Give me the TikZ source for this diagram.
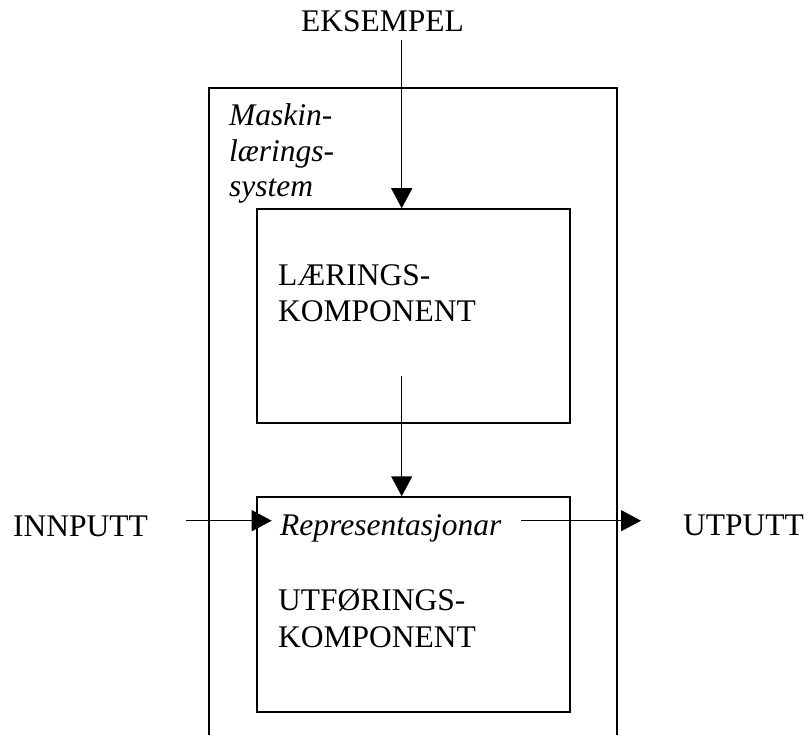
\documentclass[tikz,border=0pt]{standalone}
\usepackage{fontspec}
\setmainfont{Liberation Serif}
\usetikzlibrary{arrows.meta}
\begin{document}
\begin{tikzpicture}[x=1pt,y=-1pt,
  lw/.style={line width=1.5pt},
  boxshape/.style={draw,lw,rectangle,inner sep=0pt,minimum width=313pt},
  lbl/.style={anchor=base west,inner sep=0pt,font=\fontsize{31.5}{36.5}\selectfont},
  ilbl/.style={lbl,font=\fontsize{31.5}{36.5}\selectfont\itshape},
  arr/.style={lw,-{Triangle[length=20pt,width=21pt]}}]
\useasboundingbox (0,0) rectangle (808,735);
% outer system frame (open at bottom)
\node[inner sep=0pt,minimum width=408pt,minimum height=647pt] (sys) at (413,411.5) {};
\draw[lw] (sys.south west) -- (sys.north west) -- (sys.north east) -- (sys.south east);
% inner boxes
\node[boxshape,minimum height=214pt] (learn) at (413.5,316) {};
\node[boxshape,minimum height=215pt] (perf) at (413.5,604.5) {};
% texts
\node[lbl] (eks) at (301,32) {EKSEMPEL};
\node[ilbl] (m1) at (229,126) {Maskin-};
\node[ilbl] (m2) at (229,161.5) {lærings-};
\node[ilbl] (m3) at (229,197) {system};
\node[lbl] (l1) at (278,285) {LÆRINGS-};
\node[lbl] (l2) at (278,321.5) {KOMPONENT};
\node[ilbl] (rep) at (280,535) {Representasjonar};
\node[lbl] (u1) at (278,610) {UTFØRINGS-};
\node[lbl] (u2) at (278,647) {KOMPONENT};
\node[lbl] (inp) at (13,536) {INNPUTT};
\node[lbl] (outp) at (683,535) {UTPUTT};
% connector endpoints
\coordinate (e1) at (401.7,40);
\coordinate (c1) at (401.7,376);
\coordinate (i1) at (186,520.7);
\coordinate (i2) at (271.7,520.7);
\coordinate (o1) at (521,520.7);
\coordinate (o2) at (641,520.7);
% connectors
\draw[arr] (e1) -- (e1 |- learn.north);
\draw[arr] (c1) -- (c1 |- perf.north);
\draw[arr] (i1) -- (i2);
\draw[arr] (o1) -- (o2);
\end{tikzpicture}
\end{document}
